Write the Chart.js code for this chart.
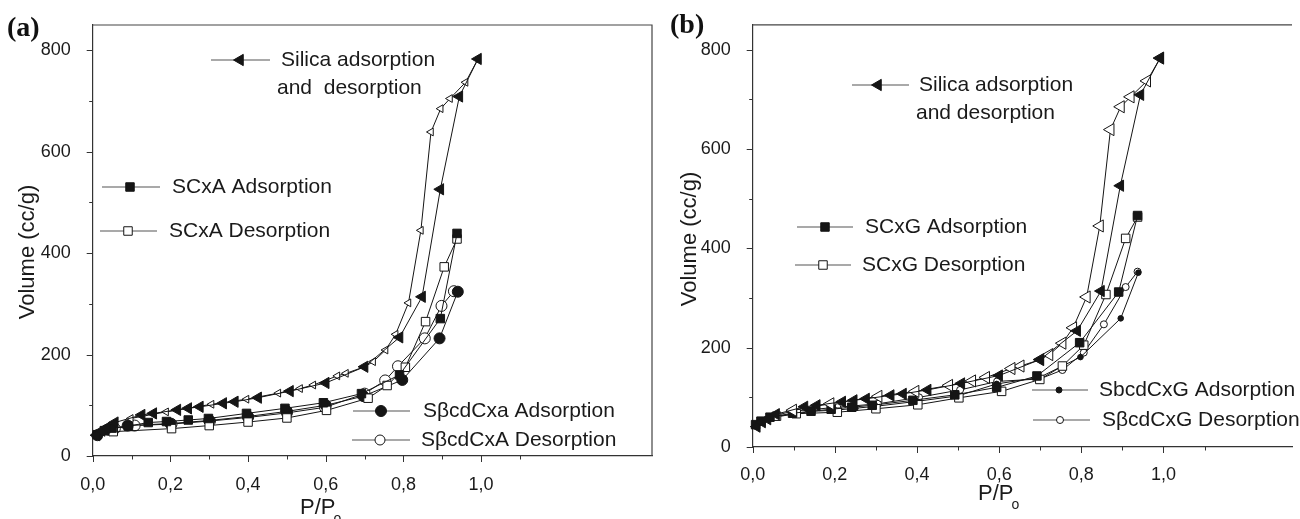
<!DOCTYPE html>
<html>
<head>
<meta charset="utf-8">
<script src="https://cdn.jsdelivr.net/npm/chart.js@4.4.0/dist/chart.umd.min.js"></script>
<style>
html, body { margin: 0; padding: 0; background: #fff; overflow: hidden; }
#wrap { position: relative; width: 1300px; height: 519px; }
canvas { position: absolute; top: 0; }
.tag { position: absolute; font: bold 28px "Liberation Serif", "Times New Roman", serif; color: #111; line-height: 1; }
</style>
</head>
<body>
<div id="wrap">
  <canvas id="chartA" width="660" height="519" style="left:0"></canvas>
  <canvas id="chartB" width="640" height="519" style="left:660px"></canvas>
  <div class="tag" style="left:7px;top:13px">(a)</div>
  <div class="tag" style="left:670px;top:10px">(b)</div>
</div>
<script>
// axis ticks
const xTickValues = [0, 0.1, 0.2, 0.3, 0.4, 0.5, 0.6, 0.7, 0.8, 0.9, 1.0, 1.1];
const xTickLabels = ['0,0', '', '0,2', '', '0,4', '', '0,6', '', '0,8', '', '1,0', ''];
const yTickValues = [0, 100, 200, 300, 400, 500, 600, 700, 800];
const yTickLabels = ['0', '', '200', '', '400', '', '600', '', '800'];

// silica (same reference in both panels)
const silicaAdsX = [0.010, 0.023, 0.036, 0.057, 0.126, 0.156, 0.218, 0.246, 0.276, 0.336, 0.366, 0.426, 0.508, 0.60, 0.70, 0.79, 0.848, 0.895, 0.944, 0.992];
const silicaAdsY = [41, 50, 56, 66, 81, 84, 91, 94, 97, 104, 107, 115, 128, 144, 176, 234, 314, 526, 709, 783];
const silicaDesX = [0.992, 0.96, 0.92, 0.896, 0.871, 0.845, 0.813, 0.78, 0.754, 0.722, 0.70, 0.652, 0.63, 0.568, 0.534, 0.478, 0.396, 0.306, 0.189, 0.098];
const silicaDesY = [783, 737, 705, 685, 639, 445, 302, 240, 209, 186, 176, 163, 158, 140, 133, 124, 112, 102, 87, 74];

// panel (a)
const scxaAdsX = [0.012, 0.03, 0.05, 0.092, 0.143, 0.19, 0.246, 0.298, 0.396, 0.495, 0.594, 0.692, 0.79, 0.895, 0.938];
const scxaAdsY = [42, 50, 55, 59, 66, 68, 71, 74, 84, 94, 105, 123, 160, 271, 439];
const scxaDesX = [0.938, 0.905, 0.857, 0.805, 0.758, 0.709, 0.602, 0.50, 0.40, 0.30, 0.203, 0.053];
const scxaDesY = [428, 373, 265, 175, 139, 114, 90, 75, 67, 60, 54, 48];
const sbcdxaAdsX = [0.012, 0.04, 0.09, 0.2, 0.3, 0.4, 0.5, 0.6, 0.697, 0.797, 0.893, 0.94];
const sbcdxaAdsY = [41, 52, 60, 64, 70, 78, 88, 100, 118, 150, 232, 324];
const sbcdxaDesX = [0.93, 0.898, 0.855, 0.786, 0.753, 0.70, 0.598, 0.50, 0.40, 0.302, 0.203, 0.108, 0.057];
const sbcdxaDesY = [325, 296, 232, 177, 149, 123, 96, 85, 76, 69, 63, 60, 54];

// panel (b)
const scxgAdsX = [0.007, 0.02, 0.042, 0.097, 0.142, 0.191, 0.241, 0.291, 0.39, 0.492, 0.594, 0.692, 0.796, 0.891, 0.937];
const scxgAdsY = [45, 52, 60, 68, 72, 76, 80, 84, 94, 105, 120, 143, 210, 312, 466];
const scxgDesX = [0.937, 0.908, 0.86, 0.806, 0.754, 0.699, 0.606, 0.502, 0.402, 0.30, 0.206, 0.106, 0.058];
const scxgDesY = [463, 420, 307, 205, 163, 136, 112, 99, 85, 77, 70, 67, 62];
const sbcdxgAdsX = [0.007, 0.02, 0.04, 0.097, 0.146, 0.2, 0.25, 0.3, 0.4, 0.5, 0.594, 0.698, 0.798, 0.896, 0.939];
const sbcdxgAdsY = [42, 50, 58, 66, 72, 74, 78, 82, 92, 103, 127, 140, 181, 259, 351];
const sbcdxgDesX = [0.937, 0.908, 0.855, 0.806, 0.754, 0.699, 0.595, 0.505, 0.405, 0.305, 0.206, 0.096, 0.058];
const sbcdxgDesY = [353, 322, 247, 190, 155, 137, 132, 115, 100, 87, 80, 72, 64];

const INK = '#151515';
const FONT = '"Liberation Sans", Arial, sans-serif';

function series(xs, ys, style, fill, r) {
  return {
    data: xs.map((x, i) => ({ x: x, y: ys[i] })),
    showLine: true,
    borderColor: INK,
    borderWidth: 1,
    pointStyle: style,
    pointRotation: style === 'triangle' ? -90 : 0,
    pointRadius: r,
    pointBackgroundColor: fill,
    pointBorderColor: INK,
    pointBorderWidth: 1,
    clip: false
  };
}

// ticks, frame, titles and the keyed legend
const decor = {
  id: 'decor',
  afterDraw(chart, args, o) {
    const ctx = chart.ctx, a = chart.chartArea;
    const xs = chart.scales.x, ys = chart.scales.y;
    ctx.save();
    ctx.strokeStyle = '#333';
    ctx.lineWidth = 1;
    ctx.beginPath();
    xs.ticks.forEach((t, i) => {
      const px = Math.round(xs.getPixelForValue(t.value)) + 0.5;
      ctx.moveTo(px, a.bottom);
      ctx.lineTo(px, a.bottom + (xTickLabels[i] ? 6 : 3.5));
    });
    ys.ticks.forEach((t, i) => {
      const py = Math.round(ys.getPixelForValue(t.value)) + 0.5;
      ctx.moveTo(a.left, py);
      ctx.lineTo(a.left - (yTickLabels[i] ? 6 : 3.5), py);
    });
    ctx.stroke();
    // frame
    ctx.strokeStyle = '#444';
    ctx.lineWidth = 1.2;
    ctx.beginPath();
    ctx.moveTo(a.left, a.top);
    ctx.lineTo(a.right, a.top);
    if (o.rightBorder) ctx.lineTo(a.right, a.bottom);
    ctx.stroke();

    // axis titles
    ctx.fillStyle = '#1a1a1a';
    ctx.font = '22px ' + FONT;
    ctx.save();
    ctx.translate(o.yTitle[0], o.yTitle[1]);
    ctx.rotate(-Math.PI / 2);
    ctx.textAlign = 'center';
    ctx.textBaseline = 'middle';
    ctx.fillText('Volume (cc/g)', 0, 0);
    ctx.restore();
    ctx.font = '22px ' + FONT;
    ctx.textAlign = 'left';
    ctx.textBaseline = 'alphabetic';
    ctx.fillText('P/P', o.xTitle[0], o.xTitle[1]);
    const w = ctx.measureText('P/P').width;
    ctx.font = '14px ' + FONT;
    ctx.fillText('o', o.xTitle[0] + w - 2, o.xTitle[1] + 9);

    // legend entries placed inside the plot
    o.items.forEach(it => {
      ctx.strokeStyle = '#555';
      ctx.lineWidth = 1.2;
      ctx.beginPath();
      ctx.moveTo(it.l0, it.y);
      ctx.lineTo(it.l1, it.y);
      ctx.stroke();
      ctx.fillStyle = it.fill;
      ctx.strokeStyle = INK;
      ctx.lineWidth = 1;
      Chart.helpers.drawPoint(ctx, {
        pointStyle: it.style, radius: it.r, borderWidth: 1,
        rotation: it.style === 'triangle' ? -90 : 0
      }, it.m, it.y);
      ctx.fillStyle = '#1a1a1a';
      ctx.font = '21px ' + FONT;
      ctx.textAlign = 'left';
      ctx.textBaseline = 'middle';
      ctx.fillText(it.text, it.tx, it.y);
      if (it.text2) ctx.fillText(it.text2, it.tx2, it.y2);
    });
    ctx.restore();
  }
};

function makeChart(id, datasets, p) {
  return new Chart(document.getElementById(id), {
    type: 'scatter',
    data: { datasets: datasets },
    options: {
      responsive: false,
      animation: false,
      events: [],
      layout: { padding: { top: p.top, right: p.right, left: 0, bottom: 0 } },
      plugins: {
        legend: { display: false },
        tooltip: { enabled: false },
        decor: p.decor
      },
      scales: {
        x: {
          type: 'linear', min: 0, max: p.xMax,
          grid: { display: false },
          border: { display: true, color: '#333', width: 1.2 },
          afterBuildTicks: s => { s.ticks = xTickValues.map(v => ({ value: v })); },
          afterFit: s => { s.height = p.xHeight; },
          ticks: {
            autoSkip: false, maxRotation: 0, padding: p.xPad, color: '#1a1a1a',
            font: { family: FONT, size: 18 },
            callback: (v, i) => xTickLabels[i]
          }
        },
        y: {
          type: 'linear', min: 0, max: 850,
          grid: { display: false },
          border: { display: true, color: '#333', width: 1.2 },
          afterBuildTicks: s => { s.ticks = yTickValues.map(v => ({ value: v })); },
          afterFit: s => { s.width = p.yWidth; },
          ticks: {
            autoSkip: false, padding: 14, color: '#1a1a1a',
            font: { family: FONT, size: 18 },
            callback: (v, i) => yTickLabels[i]
          }
        }
      }
    },
    plugins: [decor]
  });
}

makeChart('chartA', [
  series(silicaAdsX, silicaAdsY, 'triangle', INK, 6.5),
  series(silicaDesX, silicaDesY, 'triangle', '#fff', 4.5),
  series(scxaAdsX, scxaAdsY, 'rect', INK, 6),
  series(scxaDesX, scxaDesY, 'rect', '#fff', 6),
  series(sbcdxaAdsX, sbcdxaAdsY, 'circle', INK, 5.5),
  series(sbcdxaDesX, sbcdxaDesY, 'circle', '#fff', 5.5)
], {
  top: 25, right: 8, xMax: 1.44, xHeight: 63, yWidth: 92.7, xPad: 10,
  decor: {
    rightBorder: true,
    yTitle: [28, 252],
    xTitle: [300, 514],
    items: [
      { l0: 211, l1: 270, m: 240, y: 60, style: 'triangle', r: 6.5, fill: INK, text: 'Silica adsorption', tx: 281, text2: 'and  desorption', tx2: 277, y2: 88 },
      { l0: 102, l1: 160, m: 130, y: 187, style: 'rect', r: 6, fill: INK, text: 'SCxA Adsorption', tx: 172 },
      { l0: 100, l1: 157, m: 128, y: 231, style: 'rect', r: 6, fill: '#fff', text: 'SCxA Desorption', tx: 169 },
      { l0: 353, l1: 410, m: 381, y: 411, style: 'circle', r: 5.5, fill: INK, text: 'SβcdCxa Adsorption', tx: 423 },
      { l0: 352, l1: 410, m: 380, y: 440, style: 'circle', r: 5, fill: '#fff', text: 'SβcdCxA Desorption', tx: 421 }
    ]
  }
});

makeChart('chartB', [
  series(silicaAdsX, silicaAdsY, 'triangle', INK, 6.5),
  series(silicaDesX, silicaDesY, 'triangle', '#fff', 7),
  series(scxgAdsX, scxgAdsY, 'rect', INK, 6),
  series(scxgDesX, scxgDesY, 'rect', '#fff', 6),
  series(sbcdxgAdsX, sbcdxgAdsY, 'circle', INK, 2.8),
  series(sbcdxgDesX, sbcdxgDesY, 'circle', '#fff', 3.5)
], {
  top: 20, right: 0, xMax: 1.313, xHeight: 72, yWidth: 92.7, xPad: 9,
  decor: {
    rightBorder: false,
    yTitle: [30, 239],
    xTitle: [318, 500],
    items: [
      { l0: 192, l1: 249, m: 218, y: 85, style: 'triangle', r: 6.5, fill: INK, text: 'Silica adsorption', tx: 259, text2: 'and desorption', tx2: 256, y2: 113 },
      { l0: 137, l1: 193, m: 165, y: 227, style: 'rect', r: 6, fill: INK, text: 'SCxG Adsorption', tx: 205 },
      { l0: 135, l1: 191, m: 163, y: 265, style: 'rect', r: 6, fill: '#fff', text: 'SCxG Desorption', tx: 202 },
      { l0: 372, l1: 428, m: 399, y: 390, style: 'circle', r: 3, fill: INK, text: 'SbcdCxG Adsorption', tx: 439 },
      { l0: 373, l1: 430, m: 400, y: 420, style: 'circle', r: 3.5, fill: '#fff', text: 'SβcdCxG Desorption', tx: 442 }
    ]
  }
});
</script>
</body>
</html>
